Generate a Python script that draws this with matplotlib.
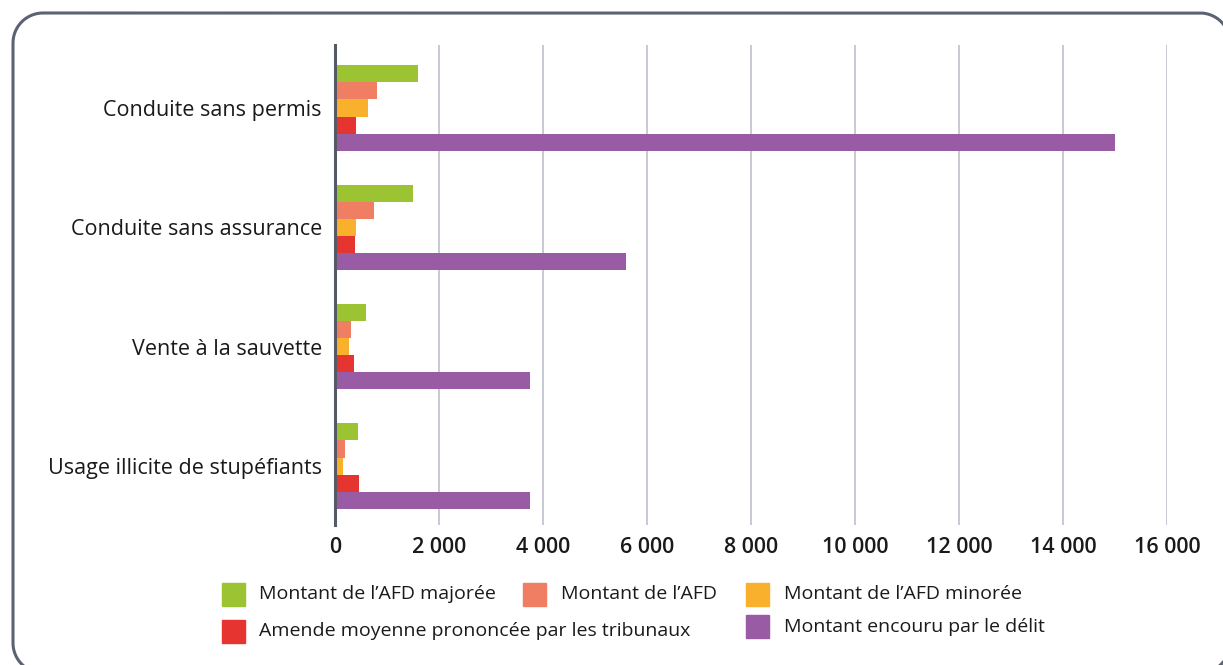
import matplotlib
matplotlib.use("Agg")
import matplotlib.pyplot as plt
import numpy as np
from matplotlib.patches import Rectangle
from matplotlib.lines import Line2D
from matplotlib.transforms import IdentityTransform

plt.rcParams["font.family"] = ["Open Sans", "DejaVu Sans"]

categories = [
    "Conduite sans permis",
    "Conduite sans assurance",
    "Vente à la sauvette",
    "Usage illicite de stupéfiants",
]
series_names = [
    "Montant de l\u2019AFD majorée",
    "Montant de l\u2019AFD",
    "Montant de l\u2019AFD minorée",
    "Amende moyenne prononcée par les tribunaux",
    "Montant encouru par le délit",
]
afd_majoree = [1600, 1500, 600, 450]
afd = [800, 750, 300, 200]
afd_minoree = [640, 400, 270, 160]
amende_tribunaux = [400, 385, 365, 455]
montant_encouru = [15000, 5600, 3750, 3750]
x_ticks = [0, 2000, 4000, 6000, 8000, 10000, 12000, 14000, 16000]
x_tick_labels = ["0", "2 000", "4 000", "6 000", "8 000", "10 000", "12 000", "14 000", "16 000"]

colors = ["#9cc332", "#f07e62", "#f9b12d", "#e63430", "#985ba4"]
values = [afd_majoree, afd, afd_minoree, amende_tribunaux, montant_encouru]

W, H = 1223, 665
fig = plt.figure(figsize=(W / 100, H / 100), dpi=100)


def rounded_frame(x0, y0, x1, y1, r, n=40):
    """Outline of a rounded rectangle in pixel coordinates (y downwards)."""
    pts = []
    corners = [(x0 + r, y0 + r, 180, 270), (x1 - r, y0 + r, 270, 360),
               (x1 - r, y1 - r, 0, 90), (x0 + r, y1 - r, 90, 180)]
    for cx, cy, a0, a1 in corners:
        t = np.radians(np.linspace(a0, a1, n))
        pts.extend(zip(cx + r * np.cos(t), cy + r * np.sin(t)))
    pts.append(pts[0])
    xs, ys = np.array(pts).T
    return xs, H - ys


fx, fy = rounded_frame(13, 13, 1230, 673, 30)
fig.lines.append(Line2D(fx, fy, transform=IdentityTransform(),
                        color="#5b6373", linewidth=2.2,
                        solid_joinstyle="round", solid_capstyle="butt"))

ax = fig.add_axes([335 / W, 1 - 525 / H, (1167 - 335) / W, (525 - 45) / H])
ax.set_facecolor("none")

y = np.arange(len(categories))
bh = 0.143
for i, (vals, col, name) in enumerate(zip(values, colors, series_names)):
    ax.barh(y + (i - 2) * bh, vals, height=bh, color=col, label=name, zorder=3)

ax.set_xlim(0, 16000)
ax.set_ylim(3.494, -0.528)
ax.set_yticks(y)
ax.set_yticklabels(categories, fontsize=15.5, color="#1a1a1a")
ax.set_xticks(x_ticks)
ax.set_xticklabels(x_tick_labels, fontsize=15.5, fontweight="semibold", color="#1a1a1a")
ax.tick_params(axis="y", length=0, pad=9.5)
ax.tick_params(axis="x", length=0, pad=8.5)
ax.grid(axis="x", color="#c4c6d0", linewidth=1.3, zorder=0)
for s in ["top", "right", "bottom"]:
    ax.spines[s].set_visible(False)
ax.spines["left"].set_color("#555b66")
ax.spines["left"].set_linewidth(2.2)
ax.spines["left"].set_zorder(4)

# legend laid out by hand in two rows
legend_items = [
    (0, 222, 583, 259, 594),
    (1, 523, 583, 561, 594),
    (2, 746, 583, 784, 594),
    (3, 222, 620, 259, 631),
    (4, 746, 615, 784, 627),
]
sq = 23
for idx, sx, sy, tx, ty in legend_items:
    fig.patches.append(Rectangle((sx / W, 1 - (sy + sq) / H), sq / W, sq / H,
                                 transform=fig.transFigure, color=colors[idx]))
    fig.text(tx / W, 1 - ty / H, series_names[idx], fontsize=14,
             color="#1a1a1a", va="center", ha="left")

fig.savefig("out.png", dpi=100)
